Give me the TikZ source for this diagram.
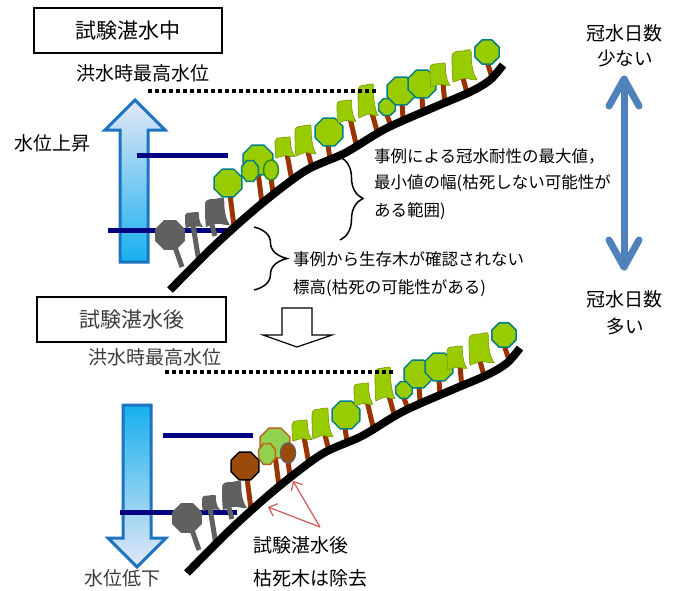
\documentclass[tikz,border=0pt]{standalone}
\usepackage{fontspec}
\setmainfont{Noto Sans CJK JP}
\usetikzlibrary{arrows.meta,decorations.pathreplacing}

\definecolor{leafgreen}{RGB}{153,204,0}
\definecolor{leafedge}{RGB}{120,150,0}
\definecolor{octedge}{RGB}{0,128,128}
\definecolor{ovaledge}{RGB}{40,140,40}
\definecolor{barkbrown}{RGB}{153,51,0}
\definecolor{deadbrown}{RGB}{156,74,10}
\definecolor{palegreen}{RGB}{146,208,80}
\definecolor{rustedge}{RGB}{184,101,26}
\definecolor{deadgray}{RGB}{96,96,96}
\definecolor{navyline}{RGB}{0,0,128}
\definecolor{arrowblue}{RGB}{30,115,192}
\definecolor{cyanfill}{RGB}{22,176,238}
\definecolor{palefill}{RGB}{228,232,246}
\definecolor{scaleblue}{RGB}{79,129,189}
\definecolor{notered}{RGB}{208,88,88}
\definecolor{fadedtext}{RGB}{60,60,60}

\tikzset{
  trunkline/.style={draw=barkbrown, line width=5pt},
  graytrunk/.style={draw=deadgray, line width=5pt},
  octcrown/.style={fill=leafgreen, draw=octedge, line width=1.5pt, line join=round},
  leafcrown/.style={fill=leafgreen, draw=leafedge, line width=0.6pt},
  graycrown/.style={fill=deadgray},
  slopeline/.style={draw=black, line width=8pt},
  waterline/.style={draw=navyline, line width=5pt},
  floodline/.style={draw=black, line width=3.5pt, dash pattern=on 3.5pt off 3.5pt},
  label/.style={inner sep=0pt, font=\fontsize{19}{23}\selectfont},
  note/.style={inner sep=0pt, anchor=west, font=\fontsize{16.5}{20}\selectfont},
  titlebox/.style={draw=black, line width=1.5pt},
  bracket/.style={draw=black, line width=1.5pt, decorate},
  scalearrow/.style={draw=scaleblue, line width=7pt, line cap=round, line join=round},
  pointer/.style={draw=notered, line width=1.2pt, -{Straight Barb[length=7pt,width=13pt]}}
}

% octagonal crown: [extra transform] x y radius style
\newcommand{\octat}[5][]{%
  \begin{scope}[shift={(#2,#3)},#1]
    \path[#5] (22.5:#4) -- (67.5:#4) -- (112.5:#4) -- (157.5:#4) -- (202.5:#4)
      -- (247.5:#4) -- (292.5:#4) -- (337.5:#4) -- cycle;
  \end{scope}}

% bell-shaped crown: top-left x y, width, height, style
\newcommand{\leafat}[5]{%
  \begin{scope}[shift={(#1,#2)},xscale=#3/24,yscale=#4/28]
    \path[#5] (0,6) .. controls (0,2) and (3,1) .. (8,1)
      .. controls (12,1) and (15,-1) .. (18,0)
      .. controls (19,2) and (18,6) .. (19,12)
      .. controls (20,18) and (21,22) .. (24,26)
      .. controls (19,27) and (15,24) .. (11,25)
      .. controls (7,26) and (4,27) .. (1,28)
      .. controls (0,22) and (0,12) .. (0,6) -- cycle;
  \end{scope}}

\newcommand{\trunk}[5][trunkline]{\draw[#1] (#2,#3) -- (#4,#5);}

% ground profile of the slope
\newcommand{\slopeprofile}{%
  \draw[slopeline] plot[smooth, tension=0.5] coordinates {
    (170,290) (215,245) (260,205) (305,171) (345,153)
    (385,129) (430,109) (470,92) (490,80) (503,65)};}

% dead trees near the foot of the slope
\newcommand{\grayforest}{%
  \trunk[graytrunk]{175}{247}{182}{267}
  \octat{170}{235}{16}{graycrown}
  \trunk[graytrunk]{193}{225}{199}{262}
  \leafat{185}{212}{18}{16}{graycrown}
  \trunk[graytrunk]{212}{225}{215}{236}
  \leafat{205}{198}{25}{29}{graycrown}}

% living trees further up the slope
\newcommand{\greenforest}{%
  \trunk{287}{154}{292}{181}
  \leafat{275}{137}{20}{21}{leafcrown}
  \trunk{308}{152}{312}{168}
  \leafat{295}{125}{21}{31}{leafcrown}
  \trunk{328}{145}{330}{159}
  \octat{329}{132}{15}{octcrown}
  \trunk{350}{118}{357}{148}
  \leafat{337}{100}{19}{23}{leafcrown}
  \trunk{372}{113}{377}{131}
  \leafat{358}{84}{20}{34}{leafcrown}
  \trunk{386}{113}{390}{123}
  \octat{387}{107}{9}{octcrown}
  \trunk{402}{103}{403}{118}
  \octat{401}{91}{15}{octcrown}
  \trunk{422}{97}{423}{112}
  \octat{422}{84}{15}{octcrown}
  \trunk{443}{83}{445}{105}
  \leafat{430}{63}{20}{24}{leafcrown}
  \trunk{463}{78}{467}{93}
  \leafat{452}{50}{25}{32}{leafcrown}
  \trunk{487}{62}{492}{77}
  \octat{487}{52}{13}{octcrown}}

\begin{document}
\begin{tikzpicture}[x=1pt,y=-1pt]
\useasboundingbox (0,0) rectangle (680,590);

% ================= during the test flooding =================
\node[titlebox, minimum width=188pt, minimum height=45pt, inner sep=0pt,
      font=\fontsize{21}{25}\selectfont] (boxA) at (128,30.5) {試験湛水中};
\node[label] (floodA) at (143,73) {洪水時最高水位};
\node[label] (riseA) at (52,143) {水位上昇};

% rising water arrow
\path[draw=arrowblue, line width=3pt, line join=miter, top color=palefill, bottom color=cyanfill]
  (120,262) -- (120,130) -- (105,130) -- (135,100) -- (165,130) -- (148,130) -- (148,262) -- cycle;

\draw[waterline] (137,155) -- (228,155);
\draw[waterline] (108,230) -- (227,230);

\grayforest
% first living trees
\trunk{230}{195}{234}{226}
\octat{228}{183}{15}{octcrown}
\trunk{258}{172}{262}{203}
\octat{258}{160}{16}{octcrown}
\octat[yscale=1.25]{250}{171}{9}{octcrown}
\trunk{271}{178}{273}{193}
\path[fill=leafgreen, draw=ovaledge, line width=1.5pt] (271,170) ellipse [x radius=7.5, y radius=10];
\greenforest
\slopeprofile
\draw[floodline] (148,91) -- (376,91);

\draw[bracket, decoration={brace, amplitude=23pt}] (340,157) -- (340,240);
\draw[bracket, decoration={brace, amplitude=33pt}] (254,227) -- (254,290);

\node[note] (rangeA) at (374,156) {事例による冠水耐性の最大値，};
\node[note] (rangeB) at (374,183.5) {最小値の幅(枯死しない可能性が};
\node[note] (rangeC) at (374,211) {ある範囲)};
\node[note] (deadA) at (293,259) {事例から生存木が確認されない};
\node[note] (deadB) at (293,288.5) {標高(枯死の可能性がある)};

% ================= flooding-duration scale =================
\node[label] (fewA) at (624,33) {冠水日数};
\node[label, font=\fontsize{18.5}{22}\selectfont] (fewB) at (625,58) {少ない};
\node[label] (manyA) at (624,299) {冠水日数};
\node[label, font=\fontsize{18.5}{22}\selectfont] (manyB) at (625,326) {多い};
\coordinate (topTip) at (624,79);
\coordinate (botTip) at (624,267);
\draw[scalearrow] (topTip) -- (botTip);
\draw[scalearrow] (609,106) -- (topTip) -- (639,106);
\draw[scalearrow] (609,240) -- (botTip) -- (639,240);

% transition arrow
\draw[line width=1.2pt, fill=white, line join=miter]
  (282,308) -- (312,308) -- (312,335) -- (332,335) -- (297,347) -- (263,335) -- (282,335) -- cycle;

% ================= after the test flooding =================
\node[titlebox, minimum width=189pt, minimum height=45pt, inner sep=0pt, text=fadedtext,
      font=\fontsize{21}{25}\selectfont] (boxB) at (131.5,319.5) {試験湛水後};
\node[label, text=fadedtext] (floodB) at (154.5,357) {洪水時最高水位};
\node[label, text=fadedtext] (fallB) at (122,578) {水位低下};

% falling water arrow
\path[draw=arrowblue, line width=3pt, line join=miter, top color=cyanfill, bottom color=palefill]
  (123,405) -- (151,405) -- (151,538) -- (166,538) -- (137,567) -- (108,538) -- (123,538) -- cycle;

\draw[waterline] (163,435) -- (253,435);
\draw[waterline] (120,512) -- (237,512);

\begin{scope}[shift={(17,283)}]
  \grayforest
  % trees that died after the test flooding
  \trunk{230}{195}{234}{226}
  \octat{228}{183}{15}{fill=deadbrown, draw=black, line width=1.5pt}
  \trunk{258}{172}{262}{203}
  \octat{258}{160}{16}{fill=palegreen, draw=rustedge, line width=1.5pt}
  \octat[yscale=1.25]{250}{171}{9}{fill=palegreen, draw=rustedge, line width=1.5pt}
  \trunk{271}{178}{273}{193}
  \path[fill=deadbrown, draw=deadgray, line width=1.5pt] (271,170) ellipse [x radius=7.5, y radius=10];
  \greenforest
  \slopeprofile
  \draw[floodline] (148,89) -- (377,89);
\end{scope}

\node[label, anchor=west] (removedA) at (253,545) {試験湛水後};
\node[label, anchor=west] (removedB) at (253,578) {枯死木は除去};
\coordinate (pointerBase) at (320,527);
\draw[pointer] (pointerBase) -- (268,507);
\draw[pointer] (pointerBase) -- (293,481);

\end{tikzpicture}
\end{document}
